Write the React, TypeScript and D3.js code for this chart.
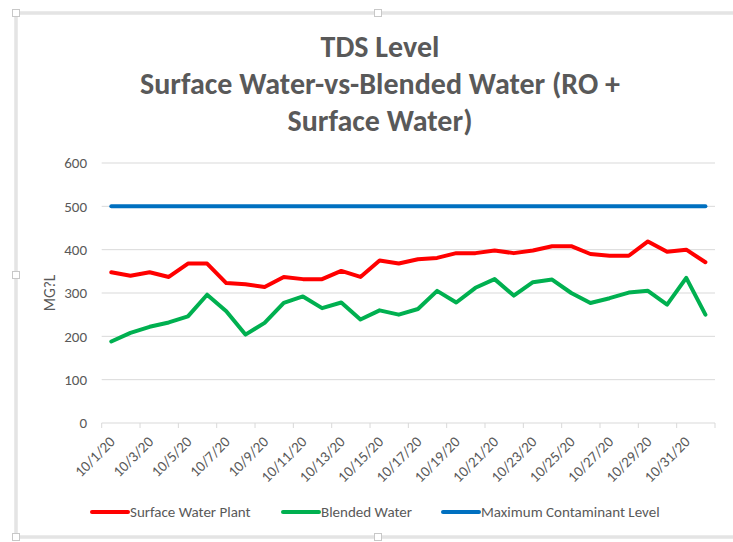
import React from 'react';
import * as d3 from 'd3';

const dates = [
  '10/1/20', '10/2/20', '10/3/20', '10/4/20', '10/5/20', '10/6/20', '10/7/20', '10/8/20',
  '10/9/20', '10/10/20', '10/11/20', '10/12/20', '10/13/20', '10/14/20', '10/15/20', '10/16/20',
  '10/17/20', '10/18/20', '10/19/20', '10/20/20', '10/21/20', '10/22/20', '10/23/20', '10/24/20',
  '10/25/20', '10/26/20', '10/27/20', '10/28/20', '10/29/20', '10/30/20', '10/31/20', '11/1/20',
];

const surfaceWater = [
  348, 340, 348, 337, 368, 368, 323, 320, 314, 337, 332, 332, 351, 337, 375, 368,
  378, 381, 392, 392, 398, 392, 398, 408, 408, 390, 386, 386, 419, 395, 400, 371,
];

const blendedWater = [
  188, 208, 222, 232, 246, 296, 258, 204, 231, 277, 292, 265, 278, 239, 260, 250,
  263, 305, 278, 312, 332, 294, 325, 331, 300, 277, 288, 301, 305, 273, 335, 250,
];

const maxLevel = dates.map(() => 500);

const yTicks = [0, 100, 200, 300, 400, 500, 600];

const seriesList = [
  { name: 'Surface Water Plant', values: surfaceWater, color: '#FF0000' },
  { name: 'Blended Water', values: blendedWater, color: '#00B050' },
  { name: 'Maximum Contaminant Level', values: maxLevel, color: '#0070C0' },
];

const titleLines = ['TDS Level', 'Surface Water-vs-Blended Water (RO +', 'Surface Water)'];

const FONT = "Carlito, Calibri, 'Liberation Sans Narrow', 'Open Sans', sans-serif";
const GRAY = '#595959';

const App = () => {
  const width = 733;
  const height = 542;

  const x = d3.scaleBand<string>().domain(dates).range([101.7, 715]).padding(0);
  const y = d3.scaleLinear().domain([0, 600]).range([423, 163]);
  const cx = (d: string) => (x(d) as number) + x.bandwidth() / 2;

  const line = d3.line<number>()
    .x((_, i) => cx(dates[i]))
    .y((v) => y(v));

  const tickDates = dates.filter((_, i) => i % 2 === 0);

  const legendX = [92, 283, 443];

  const handle = (hx: number, hy: number, key: string) => (
    <rect key={key} x={hx - 3.5} y={hy - 3.5} width={7} height={7} fill="#fff" stroke="#c8c8c8" strokeWidth={1} />
  );

  return (
    <svg width={width} height={height} style={{ position: 'absolute', left: 0, top: 0 }} fontFamily={FONT}>
      <rect x={0} y={0} width={width} height={height} fill="#fff" />
      {/* chart frame */}
      <rect x={16} y={13} width={740} height={524} fill="none" stroke="#d6d6d6" strokeWidth={3} />
      <rect x={16} y={13} width={740} height={524} fill="none" stroke="#f2f2f2" strokeWidth={1} />
      {handle(16, 13, 'h1')}
      {handle(378, 13, 'h2')}
      {handle(16, 275, 'h3')}
      {handle(16, 537, 'h4')}
      {handle(378, 537, 'h5')}

      {titleLines.map((t, i) => (
        <text key={t} x={380} y={57 + i * 37} textAnchor="middle" fontSize={30} fontWeight="bold" fill={GRAY}>
          {t}
        </text>
      ))}

      {/* gridlines */}
      {yTicks.filter((t) => t > 0).map((t) => (
        <line key={t} x1={101.7} x2={715} y1={y(t)} y2={y(t)} stroke="#d9d9d9" strokeWidth={1} />
      ))}
      {yTicks.map((t) => (
        <text key={'yl' + t} x={87} y={y(t)} dy="0.35em" textAnchor="end" fontSize={15} fill={GRAY}>
          {t}
        </text>
      ))}
      <text transform={`translate(50, ${(y(0) + y(600)) / 2}) rotate(-90)`} textAnchor="middle" dy="0.35em" fontSize={15.5} fill={GRAY}>
        MG?L
      </text>

      {/* x axis */}
      <line x1={101.7} x2={715} y1={y(0)} y2={y(0)} stroke="#d9d9d9" strokeWidth={1} />
      {d3.range(0, dates.length + 1, 2).map((i) => {
        const tx = 101.7 + i * x.step();
        return <line key={'tk' + i} x1={tx} x2={tx} y1={y(0)} y2={y(0) + 5} stroke="#d9d9d9" strokeWidth={1} />;
      })}
      {tickDates.map((d) => (
        <text key={d} transform={`translate(${cx(d) + 1}, ${y(0) + 16}) rotate(-45)`} textAnchor="end" dy="0.35em" fontSize={15} fill={GRAY}>
          {d}
        </text>
      ))}

      {/* series */}
      {seriesList.map((s) => (
        <path key={s.name} d={line(s.values) as string} fill="none" stroke={s.color} strokeWidth={4} strokeLinejoin="round" strokeLinecap="round" />
      ))}

      {/* legend */}
      {seriesList.map((s, i) => (
        <g key={'lg' + s.name}>
          <line x1={legendX[i]} x2={legendX[i] + 36} y1={512} y2={512} stroke={s.color} strokeWidth={4} strokeLinecap="round" />
          <text x={legendX[i] + 38} y={512} dy="0.35em" fontSize={15} fill={GRAY}>
            {s.name}
          </text>
        </g>
      ))}
    </svg>
  );
};

export default App;
